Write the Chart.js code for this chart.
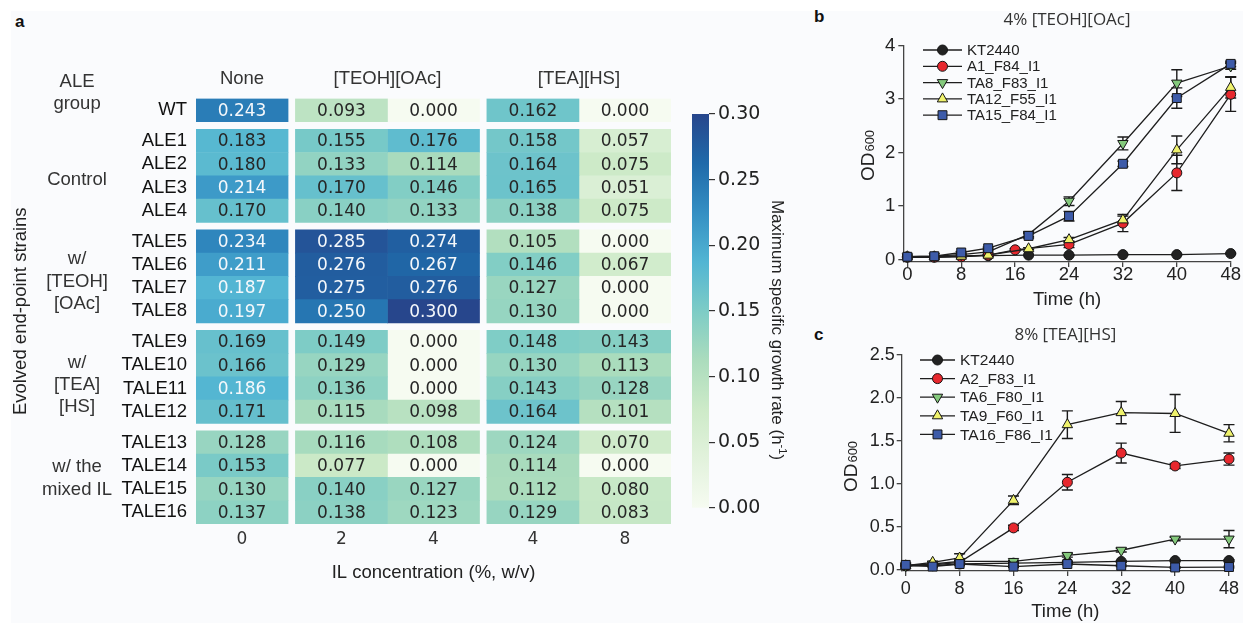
<!DOCTYPE html>
<html>
<head>
<meta charset="utf-8">
<script src="https://cdn.jsdelivr.net/npm/chart.js"></script>
<style>
  html, body { margin: 0; padding: 0; background: #fff; }
  #fig { position: relative; width: 1243px; height: 623px; overflow: hidden; }
  #panelbg { position: absolute; left: 11px; top: 11px; right: 0; bottom: 0; background: #fafbfd; }
  canvas { position: absolute; }
  .tag { position: absolute; font: bold 17px "Liberation Sans", Arial, sans-serif; line-height: 17px; color: #111; }
</style>
</head>
<body>
<div id="fig">
  <div id="panelbg"></div>
  <div class="tag" style="left:15px;top:13px">a</div>
  <div class="tag" style="left:814px;top:8px">b</div>
  <div class="tag" style="left:814px;top:326px">c</div>
  <canvas id="heat" width="690" height="623" style="left:0;top:0"></canvas>
  <canvas id="cbar" width="130" height="450" style="left:680px;top:90px"></canvas>
  <canvas id="growthB" width="423" height="312" style="left:820px;top:0"></canvas>
  <canvas id="growthC" width="423" height="311" style="left:820px;top:312px"></canvas>
</div>
<script>
// ---------- panel a : maximum specific growth rate (h-1) ----------
const strains = ['WT', 'ALE1', 'ALE2', 'ALE3', 'ALE4', 'TALE5', 'TALE6', 'TALE7', 'TALE8',
  'TALE9', 'TALE10', 'TALE11', 'TALE12', 'TALE13', 'TALE14', 'TALE15', 'TALE16'];
const groupSizes = [1, 4, 4, 4, 4];
const aleGroups = [[], ['Control'], ['w/', '[TEOH]', '[OAc]'], ['w/', '[TEA]', '[HS]'], ['w/ the', 'mixed IL']];
const ilNames = ['None', '[TEOH][OAc]', '[TEA][HS]'];
const ilConc = [['0'], ['2', '4'], ['4', '8']];

const rateNone  = [0.243, 0.183, 0.180, 0.214, 0.170, 0.234, 0.211, 0.187, 0.197, 0.169, 0.166, 0.186, 0.171, 0.128, 0.153, 0.130, 0.137];
const rateTeoh2 = [0.093, 0.155, 0.133, 0.170, 0.140, 0.285, 0.276, 0.275, 0.250, 0.149, 0.129, 0.136, 0.115, 0.116, 0.077, 0.140, 0.138];
const rateTeoh4 = [0.000, 0.176, 0.114, 0.146, 0.133, 0.274, 0.267, 0.276, 0.300, 0.000, 0.000, 0.000, 0.098, 0.108, 0.000, 0.127, 0.123];
const rateTea4  = [0.162, 0.158, 0.164, 0.165, 0.138, 0.105, 0.146, 0.127, 0.130, 0.148, 0.130, 0.143, 0.164, 0.124, 0.114, 0.112, 0.129];
const rateTea8  = [0.000, 0.057, 0.075, 0.051, 0.075, 0.000, 0.067, 0.000, 0.000, 0.143, 0.113, 0.128, 0.101, 0.070, 0.000, 0.080, 0.083];
const colorTicks = [0, 0.05, 0.10, 0.15, 0.20, 0.25, 0.30];

// ---------- panel b : 4% [TEOH][OAc] ----------
const namesB = ['KT2440', 'A1_F84_I1', 'TA8_F83_I1', 'TA12_F55_I1', 'TA15_F84_I1'];
const hoursB = [0, 4, 8, 12, 18, 24, 32, 40, 48];
const hoursA1 = [0, 4, 8, 12, 16, 24, 32, 40, 48];
const odB_KT   = [0.05, 0.05, 0.06, 0.07, 0.08, 0.08, 0.09, 0.09, 0.11];
const odB_A1   = [0.04, 0.04, 0.05, 0.08, 0.18, 0.28, 0.68, 1.62, 3.09];
const odB_TA8  = [0.05, 0.06, 0.09, 0.14, 0.47, 1.09, 2.17, 3.30, 3.62];
const odB_TA12 = [0.05, 0.05, 0.06, 0.08, 0.20, 0.37, 0.74, 2.05, 3.22];
const odB_TA15 = [0.05, 0.06, 0.13, 0.21, 0.44, 0.81, 1.79, 3.02, 3.66];
const sdB_KT   = [0, 0, 0, 0, 0, 0.01, 0.01, 0.01, 0.01];
const sdB_A1   = [0, 0, 0, 0.01, 0.02, 0.06, 0.16, 0.33, 0.32];
const sdB_TA8  = [0, 0, 0.01, 0.02, 0.04, 0.08, 0.12, 0.25, 0.06];
const sdB_TA12 = [0, 0, 0, 0.01, 0.02, 0.04, 0.07, 0.26, 0.20];
const sdB_TA15 = [0, 0, 0.02, 0.02, 0.04, 0.09, 0.05, 0.19, 0.05];

// ---------- panel c : 8% [TEA][HS] ----------
const namesC = ['KT2440', 'A2_F83_I1', 'TA6_F80_I1', 'TA9_F60_I1', 'TA16_F86_I1'];
const hoursC = [0, 4, 8, 16, 24, 32, 40, 48];
const odC_KT   = [0.05, 0.05, 0.07, 0.08, 0.09, 0.10, 0.11, 0.11];
const odC_A2   = [0.05, 0.06, 0.09, 0.49, 1.02, 1.36, 1.21, 1.29];
const odC_TA6  = [0.05, 0.07, 0.10, 0.10, 0.17, 0.23, 0.36, 0.36];
const odC_TA9  = [0.05, 0.09, 0.14, 0.81, 1.69, 1.83, 1.82, 1.59];
const odC_TA16 = [0.06, 0.04, 0.07, 0.04, 0.07, 0.05, 0.03, 0.035];
const sdC_KT   = [0, 0, 0, 0, 0.01, 0.01, 0.01, 0.01];
const sdC_A2   = [0, 0, 0.02, 0.03, 0.09, 0.115, 0.03, 0.07];
const sdC_TA6  = [0, 0, 0.03, 0.01, 0.02, 0.02, 0.02, 0.10];
const sdC_TA9  = [0, 0.01, 0.05, 0.05, 0.16, 0.13, 0.22, 0.10];
const sdC_TA16 = [0.01, 0, 0.01, 0.01, 0.01, 0.01, 0.01, 0.01];

const SANS = '"Liberation Sans", Arial, sans-serif';
const DEJA = '"DejaVu Sans", sans-serif';

// colour map (GnBu like)
const CMAP = ['#f6fbf1', '#e2f2dc', '#cdeac8', '#abdcbd', '#7dccc6', '#52b5d3', '#348fc3', '#1f6aaa', '#27468c'];
const VMAX = colorTicks[colorTicks.length - 1];
const cmapRGB = CMAP.map(h => [1, 3, 5].map(i => parseInt(h.slice(i, i + 2), 16)));
function cmap(v) {
  const t = Math.max(0, Math.min(1, v / VMAX)) * (cmapRGB.length - 1);
  const i = Math.min(Math.floor(t), cmapRGB.length - 2), f = t - i;
  return cmapRGB[i].map((c, k) => Math.round(c + (cmapRGB[i + 1][k] - c) * f));
}
function css(rgb) { return 'rgb(' + rgb.join(',') + ')'; }
function lum(rgb) {
  const l = rgb.map(c => { c /= 255; return c <= 0.03928 ? c / 12.92 : Math.pow((c + 0.055) / 1.055, 2.4); });
  return 0.2126 * l[0] + 0.7152 * l[1] + 0.0722 * l[2];
}

// heatmap layout in cell units
const ROW_GAP = 0.32, COL_GAP = 0.08, HEADER_POS = -0.24;
const GROUP_NUDGE = [0, 0.18, 0.22, 0.34, 0.04];   // group labels sit a bit low in the original
const rowPos = [], groupMid = [];
let yc = 0;
groupSizes.forEach((n, g) => {
  if (g) yc += ROW_GAP;
  groupMid.push(yc + n / 2 + GROUP_NUDGE[g]);
  for (let k = 0; k < n; k++) { rowPos.push(yc + 0.5); yc += 1; }
});
const yMax = yc;
const colStart = [], ilMid = [];
let xc = 0;
ilConc.forEach((cs, g) => {
  if (g) xc += COL_GAP;
  ilMid.push(xc + cs.length / 2);
  cs.forEach(() => { colStart.push(xc); xc += 1; });
});
const xMax = xc;
const colMid = colStart.map(s => s + 0.5);
const concLabels = ilConc.flat();

const heatCols = [rateNone, rateTeoh2, rateTeoh4, rateTea4, rateTea8];

const groupTicks = [HEADER_POS], groupText = [['ALE', 'group']];
aleGroups.forEach((lines, g) => { if (lines.length) { groupTicks.push(groupMid[g]); groupText.push(lines); } });

const cellText = {
  id: 'cellText',
  afterDatasetsDraw(chart) {
    const ctx = chart.ctx;
    ctx.save();
    ctx.font = '17px ' + DEJA;
    ctx.textAlign = 'center';
    ctx.textBaseline = 'middle';
    heatCols.forEach((vals, c) => {
      chart.getDatasetMeta(c).data.forEach((bar, r) => {
        const p = bar.getProps(['x', 'y', 'base'], true);
        ctx.fillStyle = lum(cmap(vals[r])) > 0.408 ? '#262626' : '#f5f8fb';
        ctx.fillText(vals[r].toFixed(3), (p.x + p.base) / 2, p.y + 1);
      });
    });
    ctx.restore();
  }
};

new Chart(document.getElementById('heat'), {
  type: 'bar',
  data: {
    datasets: heatCols.map((vals, c) => ({
      data: vals.map((v, r) => ({ x: [colStart[c], colStart[c] + 1], y: rowPos[r] })),
      backgroundColor: vals.map(v => css(cmap(v))),
      borderWidth: 0,
      grouped: false,
      categoryPercentage: 1,
      barPercentage: 1
    }))
  },
  options: {
    indexAxis: 'y',
    responsive: false,
    animation: false,
    events: [],
    layout: { padding: { left: 0, right: 19, top: 0, bottom: 0 } },
    plugins: { legend: { display: false }, tooltip: { enabled: false } },
    scales: {
      x: {
        type: 'linear', position: 'bottom', min: 0, max: xMax, offset: false,
        grid: { display: false, drawTicks: false }, border: { display: false },
        afterBuildTicks: s => { s.ticks = colMid.map(v => ({ value: v })); },
        afterFit: s => { s.height = 99; },
        ticks: { autoSkip: false, maxRotation: 0, padding: 5, color: '#333',
          font: { family: DEJA, size: 17 }, callback: (v, i) => concLabels[i] },
        title: { display: true, text: 'IL concentration (%, w/v)', color: '#222',
          font: { family: SANS, size: 18.5, lineHeight: 1.1 }, padding: { top: 0, bottom: 40 } }
      },
      xTop: {
        type: 'linear', position: 'top', min: 0, max: xMax, offset: false,
        grid: { display: false, drawTicks: false }, border: { display: false },
        afterBuildTicks: s => { s.ticks = ilMid.map(v => ({ value: v })); },
        afterFit: s => { s.height = 98.5; },
        ticks: { autoSkip: false, maxRotation: 0, padding: 8, color: '#333',
          font: { family: SANS, size: 18.5 }, callback: (v, i) => ilNames[i] }
      },
      y: {
        type: 'linear', position: 'left', reverse: true, min: 0, max: yMax, offset: false,
        grid: { display: false, drawTicks: false, offset: false }, border: { display: false },
        afterBuildTicks: s => { s.ticks = rowPos.map(v => ({ value: v })); },
        afterFit: s => { s.width = 84; },
        ticks: { autoSkip: false, padding: 9, color: '#111',
          font: { family: SANS, size: 18.5 }, callback: (v, i) => strains[i] }
      },
      yGroup: {
        type: 'linear', position: 'left', weight: 1, reverse: true, min: 0, max: yMax, offset: false,
        grid: { display: false, drawTicks: false, offset: false }, border: { display: false },
        afterBuildTicks: s => { s.ticks = groupTicks.map(v => ({ value: v })); },
        afterFit: s => { s.width = 112; },
        ticks: { autoSkip: false, padding: 0, crossAlign: 'center', color: '#333',
          font: { family: SANS, size: 18.5, lineHeight: 1.2 }, callback: (v, i) => groupText[i] },
        title: { display: true, text: 'Evolved end-point strains', color: '#222',
          font: { family: SANS, size: 18.5, lineHeight: 1.1 }, padding: { top: 11, bottom: 0 } }
      }
    }
  },
  plugins: [cellText]
});

// ---------- colour bar ----------
const cbarTitle = {
  id: 'cbarTitle',
  afterDraw(chart) {
    const ctx = chart.ctx;
    const main = 'Maximum specific growth rate (h', sup = '-1', tail = ')';
    ctx.save();
    ctx.translate(97, 240);
    ctx.rotate(Math.PI / 2);
    ctx.fillStyle = '#222';
    ctx.textBaseline = 'middle';
    ctx.font = '17px ' + SANS;
    const w1 = ctx.measureText(main).width, w3 = ctx.measureText(tail).width;
    ctx.font = '11px ' + SANS;
    const w2 = ctx.measureText(sup).width;
    let x = -(w1 + w2 + w3) / 2;
    ctx.font = '17px ' + SANS;
    ctx.fillText(main, x, 0);
    x += w1;
    ctx.font = '11px ' + SANS;
    ctx.fillText(sup, x, -5);
    x += w2;
    ctx.font = '17px ' + SANS;
    ctx.fillText(tail, x, 0);
    ctx.restore();
  }
};

new Chart(document.getElementById('cbar'), {
  type: 'bar',
  data: {
    labels: [''],
    datasets: [{
      data: [[colorTicks[0], VMAX]],
      borderWidth: 0,
      categoryPercentage: 1,
      barPercentage: 1,
      backgroundColor: c => {
        const a = c.chart.chartArea;
        if (!a) return CMAP[4];
        const g = c.chart.ctx.createLinearGradient(0, a.bottom, 0, a.top);
        CMAP.forEach((col, i) => g.addColorStop(i / (CMAP.length - 1), col));
        return g;
      }
    }]
  },
  options: {
    responsive: false,
    animation: false,
    events: [],
    layout: { padding: { left: 12, right: 0, top: 24, bottom: 32 } },
    plugins: { legend: { display: false }, tooltip: { enabled: false } },
    scales: {
      x: { display: false },
      y: {
        position: 'right', min: colorTicks[0], max: VMAX,
        afterBuildTicks: s => { s.ticks = colorTicks.map(v => ({ value: v })); },
        afterFit: s => { s.width = 101; },
        grid: { drawOnChartArea: false, drawTicks: true, tickLength: 6, color: '#333', lineWidth: 1.2 },
        border: { display: false },
        ticks: { padding: 3, color: '#222', font: { family: DEJA, size: 19 }, callback: v => v.toFixed(2) }
      }
    }
  },
  plugins: [cbarTitle]
});

// ---------- growth curves ----------
const MARKERS = [
  { bg: '#222222', style: 'circle', r: 5, rot: 0 },
  { bg: '#e7282e', style: 'circle', r: 5, rot: 0 },
  { bg: '#84c97c', style: 'triangle', r: 6, rot: 180 },
  { bg: '#eff26c', style: 'triangle', r: 6, rot: 0 },
  { bg: '#3d5ba9', style: 'rect', r: 6.3, rot: 0 }
];

function errorBars(sdList) {
  return {
    id: 'errorBars',
    beforeDatasetsDraw(chart) {
      const ctx = chart.ctx, xs = chart.scales.x, ys = chart.scales.y;
      ctx.save();
      ctx.strokeStyle = '#1a1a1a';
      ctx.lineWidth = 1.4;
      chart.data.datasets.forEach((ds, i) => {
        ds.data.forEach((p, j) => {
          const s = sdList[i][j];
          if (!s) return;
          const px = xs.getPixelForValue(p.x);
          const top = ys.getPixelForValue(p.y + s), bot = ys.getPixelForValue(p.y - s);
          ctx.beginPath();
          ctx.moveTo(px, top); ctx.lineTo(px, bot);
          ctx.moveTo(px - 5.5, top); ctx.lineTo(px + 5.5, top);
          ctx.moveTo(px - 5.5, bot); ctx.lineTo(px + 5.5, bot);
          ctx.stroke();
        });
      });
      ctx.restore();
    }
  };
}

function lineLegend(o) {
  return {
    id: 'lineLegend',
    afterDatasetsDraw(chart) {
      const ctx = chart.ctx;
      chart.data.datasets.forEach((ds, i) => {
        const y = o.top + i * o.gap, m = MARKERS[i];
        ctx.save();
        ctx.strokeStyle = '#1e1e1e';
        ctx.lineWidth = 1.3;
        ctx.beginPath(); ctx.moveTo(o.x0, y); ctx.lineTo(o.x1, y); ctx.stroke();
        ctx.fillStyle = m.bg;
        ctx.strokeStyle = '#151515';
        ctx.lineWidth = 1;
        Chart.helpers.drawPoint(ctx, { pointStyle: m.style, rotation: m.rot, radius: m.r, borderWidth: 1 }, (o.x0 + o.x1) / 2, y);
        ctx.fillStyle = '#222';
        ctx.font = o.font + 'px ' + SANS;
        ctx.textBaseline = 'middle';
        ctx.fillText(ds.label, o.x1 + 5, y + 1);
        ctx.restore();
      });
    }
  };
}

function odLabel(cx, cy) {
  return {
    id: 'odLabel',
    afterDraw(chart) {
      const ctx = chart.ctx;
      ctx.save();
      ctx.translate(cx, cy);
      ctx.rotate(-Math.PI / 2);
      ctx.fillStyle = '#222';
      ctx.textBaseline = 'alphabetic';
      ctx.font = '19px ' + SANS;
      const w1 = ctx.measureText('OD').width;
      ctx.font = '13px ' + SANS;
      const w2 = ctx.measureText('600').width;
      ctx.font = '19px ' + SANS;
      ctx.fillText('OD', -(w1 + w2) / 2, 7);
      ctx.font = '13px ' + SANS;
      ctx.fillText('600', -(w1 + w2) / 2 + w1 + 1, 7);
      ctx.restore();
    }
  };
}

function growthChart(id, o) {
  const datasets = o.names.map((name, i) => {
    const m = MARKERS[i];
    return {
      label: name,
      data: o.hours[i].map((h, j) => ({ x: h, y: o.od[i][j] })),
      borderColor: '#1e1e1e', borderWidth: 1.3, tension: 0,
      pointStyle: m.style, pointRotation: m.rot, pointRadius: m.r, pointHoverRadius: m.r,
      pointBackgroundColor: m.bg, pointBorderColor: '#151515', pointBorderWidth: 1,
      order: o.names.length - 1 - i, clip: false
    };
  });
  const axisGrid = { display: true, drawOnChartArea: false, drawTicks: true, tickLength: o.tickLen, color: '#444', lineWidth: 1.3 };
  return new Chart(document.getElementById(id), {
    type: 'line',
    data: { datasets },
    options: {
      responsive: false,
      animation: false,
      events: [],
      layout: { padding: { left: 0, right: o.padRight, top: 0, bottom: 0 } },
      plugins: {
        legend: { display: false },
        tooltip: { enabled: false },
        title: { display: true, text: o.title, fullSize: false, color: '#333',
          font: { family: '"Open Sans", sans-serif', size: 17, weight: 'normal', lineHeight: 1.2 },
          padding: o.titlePad }
      },
      scales: {
        x: {
          type: 'linear', min: -0.6, max: 48,
          grid: axisGrid, border: { display: true, color: '#444', width: 1.3 },
          afterFit: s => { s.height = o.xHeight; },
          ticks: { stepSize: 8, includeBounds: false, maxRotation: 0, padding: o.xPad, color: '#222',
            font: { family: SANS, size: o.tickFont, lineHeight: 1 } },
          title: { display: true, text: 'Time (h)', color: '#222',
            font: { family: SANS, size: 18.5, lineHeight: 1 }, padding: { top: 0, bottom: o.timePad } }
        },
        y: {
          type: 'linear', min: o.yMin, max: o.yMax,
          grid: axisGrid, border: { display: true, color: '#444', width: 1.3 },
          afterFit: s => { s.width = o.yWidth; },
          ticks: { stepSize: o.yStep, includeBounds: false, padding: o.yPad, color: '#222',
            font: { family: SANS, size: o.tickFont }, callback: v => v.toFixed(o.yDigits) }
        }
      }
    },
    plugins: [errorBars(o.sd), lineLegend(o.legend), odLabel(o.odX, o.odY)]
  });
}

growthChart('growthB', {
  title: '4% [TEOH][OAc]',
  names: namesB,
  hours: [hoursB, hoursA1, hoursB, hoursB, hoursB],
  od: [odB_KT, odB_A1, odB_TA8, odB_TA12, odB_TA15],
  sd: [sdB_KT, sdB_A1, sdB_TA8, sdB_TA12, sdB_TA15],
  yMin: -0.05, yMax: 4, yStep: 1, yDigits: 0,
  padRight: 12.3, yWidth: 83.3, xHeight: 49.9,
  titlePad: { top: 9.8, bottom: 15.5 },
  tickLen: 5, xPad: -1, yPad: 3, tickFont: 18.5, timePad: 2.5,
  legend: { x0: 103, x1: 142, top: 50, gap: 16.3, font: 15 },
  odX: 46.7, odY: 156
});

growthChart('growthC', {
  title: '8% [TEA][HS]',
  names: namesC,
  hours: [hoursC, hoursC, hoursC, hoursC, hoursC],
  od: [odC_KT, odC_A2, odC_TA6, odC_TA9, odC_TA16],
  sd: [sdC_KT, sdC_A2, sdC_TA6, sdC_TA9, sdC_TA16],
  yMin: -0.01, yMax: 2.5, yStep: 0.5, yDigits: 1,
  padRight: 14, yWidth: 81.7, xHeight: 52.1,
  titlePad: { top: 12.8, bottom: 9.8 },
  tickLen: 5, xPad: 4, yPad: 2, tickFont: 18, timePad: 1.5,
  legend: { x0: 100, x1: 135, top: 48, gap: 18.6, font: 15.5 },
  odX: 30, odY: 155
});
</script>
</body>
</html>
